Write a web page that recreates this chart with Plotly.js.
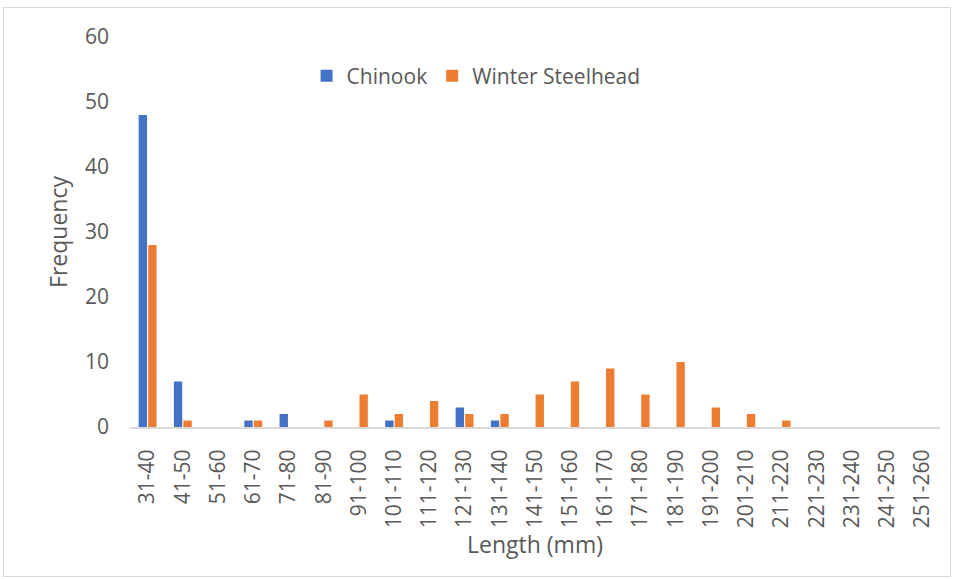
<!DOCTYPE html>
<html><head><meta charset="utf-8">
<script src="https://cdn.plot.ly/plotly-3.0.1.min.js"></script>
<style>html,body{margin:0;padding:0;background:#fff;}#frame{position:absolute;left:3px;top:7px;width:946px;height:568px;border:1px solid #d9d9d9;pointer-events:none;}</style>
</head><body>
<div id="chart" style="width:954px;height:579px;"></div>
<div id="frame"></div>
<script>
const categories = ["31-40","41-50","51-60","61-70","71-80","81-90","91-100","101-110","111-120","121-130","131-140","141-150","151-160","161-170","171-180","181-190","191-200","201-210","211-220","221-230","231-240","241-250","251-260"];
const chinook = [48,7,0,1,2,0,0,1,0,3,1,0,0,0,0,0,0,0,0,0,0,0,0];
const winterSteelhead = [28,1,0,1,0,1,5,2,4,2,2,5,7,9,5,10,3,2,1,0,0,0,0];
const font = "'Open Sans', 'Noto Sans', sans-serif";
const grey = "#595959";
const traces = [
  {type:"bar", name:"Chinook", x:categories, y:chinook, marker:{color:"#4472C4"}},
  {type:"bar", name:"Winter Steelhead", x:categories, y:winterSteelhead, marker:{color:"#ED7D31"}}
];
const layout = {
  width:954, height:579,
  margin:{l:130, r:14, t:37, b:152},
  paper_bgcolor:"#fff", plot_bgcolor:"#fff",
  font:{family:font, color:grey, size:20},
  barmode:"group", bargap:0.46, bargroupgap:0.12,
  showlegend:true,
  legend:{orientation:"h", x:0.218, xanchor:"left", y:0.9, yanchor:"middle", font:{size:21, color:grey}, bgcolor:"rgba(0,0,0,0)"},
  xaxis:{type:"category", tickangle:-90, tickfont:{size:21, color:grey}, showline:true, linecolor:"#d9d9d9", linewidth:2, ticks:"", showgrid:false, ticklabelstandoff:12,
    title:{text:"Length (mm)", font:{size:23, color:grey}, standoff:10}},
  yaxis:{range:[0,60], dtick:10, showgrid:false, zeroline:false, showline:false, ticks:"", tickfont:{size:21, color:grey}, ticklabelstandoff:20,
    title:{text:"Frequency", font:{size:23, color:grey}, standoff:10}}
};
Plotly.newPlot("chart", traces, layout, {displayModeBar:false, staticPlot:true});
</script>
</body></html>
